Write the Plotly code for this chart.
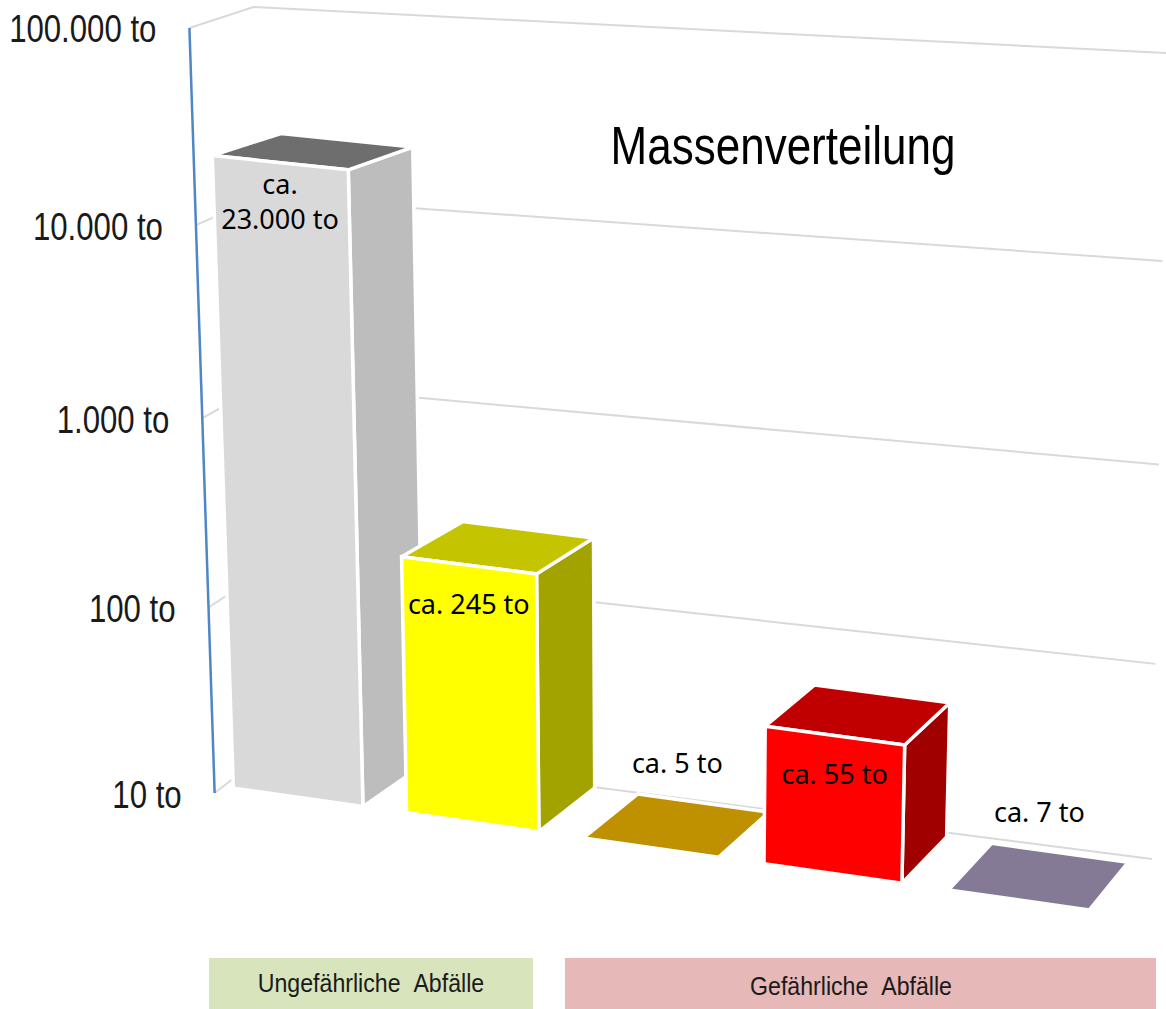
import numpy as np
import plotly.graph_objects as go

# ---- data ----
categories = ["Ungefährliche Abfälle A", "Ungefährliche Abfälle B", "Gefährliche Abfälle A", "Gefährliche Abfälle B", "Gefährliche Abfälle C"]
values_to = [23000, 245, 5, 55, 7]
value_labels = ["ca.<br>23.000 to", "ca. 245 to", "ca. 5 to", "ca. 55 to", "ca. 7 to"]
tick_values = [10, 100, 1000, 10000, 100000]
tick_labels = ["10 to", "100 to", "1.000 to", "10.000 to", "100.000 to"]
title_text = "Massenverteilung"
group_labels = ["Ungefährliche\u00a0\u00a0Abfälle", "Gefährliche\u00a0\u00a0Abfälle"]

# ---- styles ----
front_colors = ["#D9D9D9", "#FFFF00", "#BF9000", "#FF0000", "#857A96"]
top_colors = ["#6E6E6E", "#C4C400", "#BF9000", "#C00000", "#857A96"]
side_colors = ["#BDBDBD", "#A3A300", "#BF9000", "#A00000", "#857A96"]
group_colors = ["#D8E4BC", "#E6B8B7"]
group_spans = [(209, 533), (565, 1156)]
group_text_pos = [(371, 985), (851, 988)]
GRID = "#D9D9D9"
AXIS = "#4F86C6"
SANS = "Liberation Sans, Arial"
LABEL = "Noto Sans, Open Sans"
V_MIN, V_MAX = 1.0, 5.0
BAR_W = 0.75
# the reference's sans text is horizontally condensed: font size -> width factor
CONDENSE = {38: 0.82, 53: 0.83, 26: 0.89}


def camera(pairs):
    """Least-squares perspective camera from frame anchors (u,v,w)->(px,py)."""
    A, b = [], []
    for (u, v, w), (px, py) in pairs:
        A.append([u, v, w, 1, 0, 0, 0, 0, -px * u, -px * v, -px * w]); b.append(px)
        A.append([0, 0, 0, 0, u, v, w, 1, -py * u, -py * v, -py * w]); b.append(py)
    m = np.linalg.lstsq(np.array(A, float), np.array(b, float), rcond=None)[0]
    P = np.append(m, 1.0).reshape(3, 4)

    def project(u, v, w):
        h = P @ np.array([u, v, w, 1.0])
        return h[0] / h[2], h[1] / h[2]
    return project


# frame of the bars: u = category slots, v = log10(tons), w = depth
bar_cam = camera([
    ((0, 1, 0), (240, 793)), ((4.75, 1, 0), (1096, 907)),
    ((0, 1, 1), (297, 750)), ((4.75, 1, 1), (1130, 857)),
    ((1, 1, 0), (405, 815)), ((2, 1, 0), (583, 838)), ((3, 1, 0), (760, 862)),
    ((2, 1, 1), (630, 793)),
    ((0, 5, 0), (214, 25)), ((4.75, 5, 0), (1121, 125)),
    ((2, 5, 0), (574, 58)), ((3, 5, 0), (758, 82)),
    ((0, 5, 1), (281, 8)), ((4.75, 5, 1), (1161, 100)),
])
# frame of the walls
wall_cam = camera([
    ((0, 1, 0), (216, 793)), ((0, 5, 0), (188, 28)),
    ((0, 1, 1), (274, 746)), ((0, 5, 1), (255, 7)),
    ((1, 1, 1), (1152, 859)), ((1, 5, 1), (1166, 53)),
])

fig = go.Figure()


def line(points, color, width):
    xs, ys = zip(*points)
    fig.add_trace(go.Scatter(x=xs, y=ys, mode="lines", line=dict(color=color, width=width),
                             hoverinfo="skip", showlegend=False))


def face(points, color):
    xs, ys = zip(*(points + points[:1]))
    fig.add_trace(go.Scatter(x=xs, y=ys, mode="lines", fill="toself", fillcolor=color,
                             line=dict(color="#FFFFFF", width=3.5),
                             hoverinfo="skip", showlegend=False))


# walls
for t in tick_values:
    v = np.log10(t)
    line([wall_cam(0, v, 0), wall_cam(0, v, 1), wall_cam(1, v, 1)], GRID, 2)
line([wall_cam(0, V_MIN, 0), wall_cam(0, V_MAX, 0)], AXIS, 2.5)

# bars
for i, val in enumerate(values_to):
    v = float(np.clip(np.log10(val), V_MIN, V_MAX))
    u0, u1 = i, i + BAR_W
    if v <= V_MIN:
        face([bar_cam(u0, V_MIN, 0), bar_cam(u1, V_MIN, 0), bar_cam(u1, V_MIN, 1), bar_cam(u0, V_MIN, 1)],
             top_colors[i])
        continue
    face([bar_cam(u1, V_MIN, 0), bar_cam(u1, V_MIN, 1), bar_cam(u1, v, 1), bar_cam(u1, v, 0)], side_colors[i])
    face([bar_cam(u0, v, 0), bar_cam(u1, v, 0), bar_cam(u1, v, 1), bar_cam(u0, v, 1)], top_colors[i])
    face([bar_cam(u0, V_MIN, 0), bar_cam(u1, V_MIN, 0), bar_cam(u1, v, 0), bar_cam(u0, v, 0)], front_colors[i])

# value labels
for i, (val, lab) in enumerate(zip(values_to, value_labels)):
    v = float(np.clip(np.log10(val), V_MIN, V_MAX))
    um = i + BAR_W / 2
    if v <= V_MIN:
        px = bar_cam(um, V_MIN, 0.5)[0]
        py = bar_cam(um, V_MIN, 1)[1] - 37
    else:
        px, py = bar_cam(um, v, 0)
        py += 42
    fig.add_trace(go.Scatter(x=[px], y=[py], mode="text", text=[lab], textposition="middle center",
                             textfont=dict(family=LABEL, size=27, color="#000000"),
                             hoverinfo="skip", showlegend=False))

# tick labels
for t, lab in zip(tick_values, tick_labels):
    px, py = wall_cam(0, np.log10(t), 0)
    fig.add_trace(go.Scatter(x=[px - 33], y=[py + 5], mode="text", text=[lab], textposition="middle left",
                             textfont=dict(family=SANS, size=38, color="#1A1A1A"),
                             hoverinfo="skip", showlegend=False))

# title
fig.add_trace(go.Scatter(x=[783], y=[151], mode="text", text=[title_text], textposition="middle center",
                         textfont=dict(family=SANS, size=53, color="#000000"),
                         hoverinfo="skip", showlegend=False))

# group boxes
for (x0, x1), col, lab, (tx, ty) in zip(group_spans, group_colors, group_labels, group_text_pos):
    fig.add_shape(type="rect", x0=x0, x1=x1, y0=958, y1=1012, fillcolor=col, line_width=0, layer="below")
    fig.add_trace(go.Scatter(x=[tx], y=[ty], mode="text", text=[lab], textposition="middle center",
                             textfont=dict(family=SANS, size=26, color="#1A1A1A"),
                             hoverinfo="skip", showlegend=False))

fig.update_layout(width=1166, height=1009, margin=dict(l=0, r=0, t=0, b=0),
                  paper_bgcolor="#FFFFFF", plot_bgcolor="#FFFFFF", showlegend=False,
                  xaxis=dict(range=[0, 1166], visible=False, fixedrange=True),
                  yaxis=dict(range=[1009, 0], visible=False, fixedrange=True))

post = """
document.body.style.margin='0';document.body.style.overflow='hidden';
var F = %s;
document.querySelectorAll('.textpoint text').forEach(function(t){
  var s = Math.round(parseFloat(t.style.fontSize));
  if (F[s] && t.style.fontFamily.indexOf('Liberation') >= 0) {
    t.setAttribute('textLength', t.getComputedTextLength() * F[s]);
    t.setAttribute('lengthAdjust', 'spacingAndGlyphs');
  }
});
""" % {k: v for k, v in CONDENSE.items()}
fig.write_html("out.html", post_script=post, config={"displayModeBar": False})
